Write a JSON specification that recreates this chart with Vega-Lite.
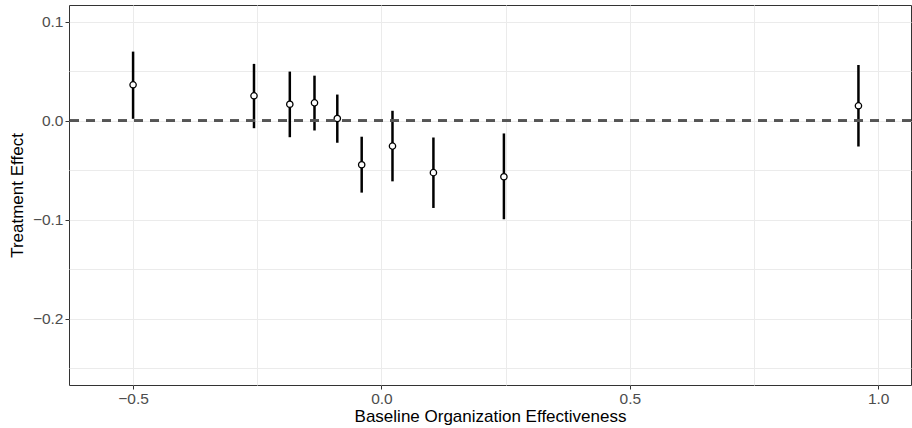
{
  "$schema": "https://vega.github.io/schema/vega-lite/v6.json",
  "autosize": {"type": "none"},
  "width": 842,
  "height": 380,
  "padding": {"left": 69, "top": 5, "right": 1, "bottom": 43},
  "background": "white",
  "config": {
    "font": "Liberation Sans",
    "view": {"stroke": "#333333", "strokeWidth": 1},
    "axis": {
      "gridColor": "#ebebeb",
      "domain": false,
      "tickColor": "#333333",
      "tickSize": 4,
      "labelColor": "#4d4d4d",
      "labelFontSize": 15.5,
      "titleFontSize": 17,
      "titleFontWeight": "normal",
      "titleColor": "#000000",
      "labelPadding": 2
    }
  },
  "data": {
    "values": [
      {"x": -0.5, "est": 0.0363, "lo": 0.002, "hi": 0.0699},
      {"x": -0.2566, "est": 0.0252, "lo": -0.0075, "hi": 0.0575},
      {"x": -0.1845, "est": 0.0167, "lo": -0.0166, "hi": 0.0497},
      {"x": -0.1348, "est": 0.0181, "lo": -0.0098, "hi": 0.0456},
      {"x": -0.0889, "est": 0.0023, "lo": -0.0222, "hi": 0.0265},
      {"x": -0.0398, "est": -0.0444, "lo": -0.0726, "hi": -0.0161},
      {"x": 0.0222, "est": -0.0256, "lo": -0.0612, "hi": 0.0101},
      {"x": 0.1046, "est": -0.0524, "lo": -0.0881, "hi": -0.0169},
      {"x": 0.2465, "est": -0.0565, "lo": -0.0995, "hi": -0.0128},
      {"x": 0.9602, "est": 0.0151, "lo": -0.026, "hi": 0.0564}
    ]
  },
  "layer": [
    {
      "mark": {"type": "rule", "color": "#000000", "strokeWidth": 2.5},
      "encoding": {
        "x": {
          "field": "x", "type": "quantitative",
          "scale": {"domain": [-0.629, 1.066], "nice": false, "zero": false},
          "axis": {
            "title": "Baseline Organization Effectiveness",
            "values": [-0.5, -0.25, 0, 0.25, 0.5, 0.75, 1.0],
            "labelExpr": "abs(round(datum.value*4)) % 2 == 1 ? '' : replace(format(datum.value, '.1f'), '-', '−')",
            "tickOpacity": {"condition": {"test": "abs(round(datum.value*4)) % 2 == 1", "value": 0}, "value": 1},
            "grid": true,
            "gridWidth": 1,
            "titlePadding": 2
          }
        },
        "y": {
          "field": "lo", "type": "quantitative",
          "scale": {"domain": [-0.267, 0.117], "nice": false, "zero": false},
          "axis": {
            "title": "Treatment Effect",
            "values": [-0.25, -0.2, -0.15, -0.1, -0.05, 0, 0.05, 0.1],
            "labelExpr": "abs(round(datum.value*20)) % 2 == 1 ? '' : replace(format(datum.value, '.1f'), '-', '−')",
            "tickOpacity": {"condition": {"test": "abs(round(datum.value*20)) % 2 == 1", "value": 0}, "value": 1},
            "grid": true,
            "gridWidth": 1,
            "titlePadding": 6
          }
        },
        "y2": {"field": "hi"}
      }
    },
    {
      "mark": {"type": "point", "filled": false, "fill": "white", "fillOpacity": 1, "stroke": "black", "strokeWidth": 1.3, "size": 40, "opacity": 1},
      "encoding": {
        "x": {"field": "x", "type": "quantitative"},
        "y": {"field": "est", "type": "quantitative"}
      }
    },
    {
      "mark": {"type": "rule", "color": "#555555", "strokeWidth": 1.9, "strokeDash": [9, 7]},
      "encoding": {"y": {"datum": 0, "type": "quantitative"}}
    }
  ]
}
